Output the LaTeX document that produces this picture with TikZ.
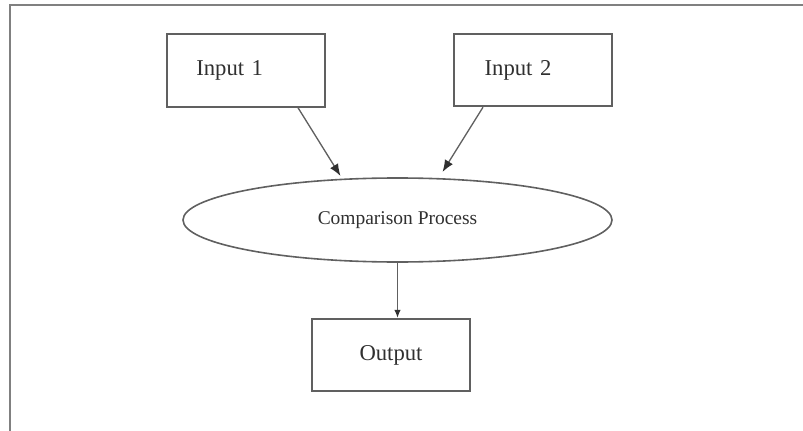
\documentclass[tikz,border=0pt]{standalone}
\usepackage{fontspec}
\setmainfont{Liberation Serif}
\usetikzlibrary{arrows.meta,shapes.geometric,calc}
\definecolor{linegray}{HTML}{606060}
\definecolor{txtgray}{HTML}{303030}
\definecolor{headgray}{HTML}{303030}
\begin{document}
\begin{tikzpicture}[x=0.75pt,y=-0.75pt,
  box/.style={draw=linegray,line width=1.3pt,rectangle,minimum width=118.5pt,minimum height=54.5pt,
    inner xsep=22pt,inner ysep=0pt,text width=74.5pt,align=left,text=txtgray,font=\fontsize{17}{20}\selectfont},
  outbox/.style={box,align=center},
  proc/.style={draw=linegray,line width=1.2pt,ellipse,minimum width=321.75pt,minimum height=63pt,inner sep=0pt,
    text=txtgray,font=\fontsize{14.6}{17}\selectfont},
  arr/.style={draw=linegray,line width=1pt,-{Latex[length=9pt,width=7pt,color=headgray]}},
  frame/.style={draw=linegray!80,line width=1.3pt}]
\useasboundingbox (0,0) rectangle (803,431);
% outer frame (top and left edges visible)
\draw[frame] (10,431) -- (10,5) -- (803,5);
% nodes
\node[box] (in1) at (246,70.5) {Input 1};
\node[box,inner xsep=23pt,text width=72.5pt] (in2) at (533,70) {Input 2};
\node[proc] (cmp) at (397.5,220) {Comparison Process};
\node[outbox] (out) at (391,355) {Output};
% connectors
\draw[arr] ([xshift=39pt]in1.south) -- ([shift={(-57,-44)}]cmp.center);
\draw[arr] ([xshift=-37.5pt]in2.south) -- ([shift={(45,-48)}]cmp.center);
\draw[arr,-{Latex[length=6pt,width=5pt,color=headgray]}] (cmp.south) -- (cmp.south |- out.north);
\end{tikzpicture}
\end{document}
